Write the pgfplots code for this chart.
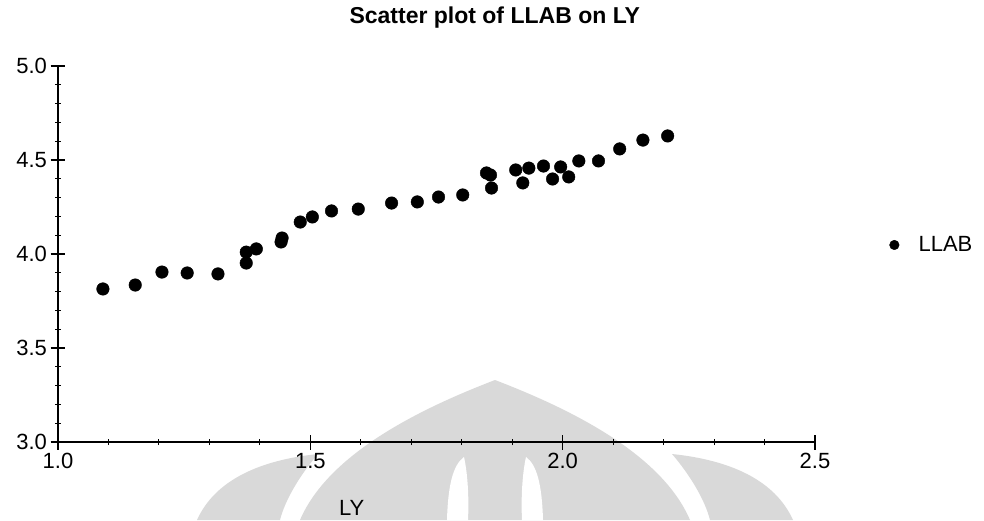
\documentclass[border=0pt]{standalone}
\usepackage{fontspec}
\setmainfont{Liberation Sans}
\usepackage{pgfplots}
\pgfplotsset{compat=1.18}
\definecolor{wmgray}{gray}{0.85}

\begin{document}
\begin{tikzpicture}[x=1pt,y=1pt]
\useasboundingbox (0,0) rectangle (984,520);
% faint logo behind the plot
\begin{scope}
  \clip (0,0) rectangle (984,520);
  \fill[wmgray] (300,0) .. controls (330,70) and (430,115) .. (495,140)
                .. controls (560,115) and (660,70) .. (690,0) -- cycle;
  \fill[white] (447,0) .. controls (448,35) and (453,55) .. (464,63)
               .. controls (468,45) and (469,20) .. (468,0) -- cycle;
  \fill[white] (543,0) .. controls (542,35) and (537,55) .. (526,63)
               .. controls (522,45) and (521,20) .. (522,0) -- cycle;
  \fill[wmgray] (197,0) .. controls (215,40) and (260,60) .. (318,66)
                .. controls (300,45) and (285,20) .. (280,0) -- cycle;
  \fill[wmgray] (793,0) .. controls (775,40) and (730,60) .. (672,66)
                .. controls (690,45) and (705,20) .. (710,0) -- cycle;
\end{scope}
\begin{axis}[
  at={(58pt,78pt)}, anchor=south west,
  scale only axis, width=757pt, height=376pt,
  xmin=1, xmax=2.5, ymin=3, ymax=5,
  axis lines=left,
  axis line style={-, line width=2.5pt},
  xtick={1,1.5,2,2.5}, ytick={3,3.5,4,4.5,5},
  minor tick num=4,
  tick align=center,
  major tick length=15pt, minor tick length=6pt,
  major tick style={black, line width=1.5pt},
  minor tick style={black, line width=1pt},
  tick label style={font=\fontsize{22}{25}\selectfont},
  /pgf/number format/fixed,
  /pgf/number format/fixed zerofill,
  /pgf/number format/precision=1,
  /pgf/number format/assume math mode=true,
  title={Scatter plot of LLAB on LY},
  title style={font=\bfseries\fontsize{23}{27}\selectfont,
    at={(axis description cs:0.577,1)}, anchor=base, yshift=36pt},
  xlabel={LY},
  xlabel style={font=\fontsize{22}{26}\selectfont,
    at={(axis description cs:0.388,0)}, anchor=base, yshift=-73pt},
  legend entries={LLAB},
  legend style={at={(axis description cs:1.094,0.524)}, anchor=west,
    draw=none, fill=none, font=\fontsize{22}{26}\selectfont},
  legend image code/.code={\fill[black] (0pt,0pt) circle (4.8pt); \path (22pt,0pt);},
]
\addplot[only marks, mark=*, mark size=6.3pt, mark options={fill=black, draw=black}]
  table {
x y
1.089 3.814
1.153 3.835
1.206 3.904
1.256 3.899
1.317 3.894
1.373 4.010
1.373 3.952
1.393 4.027
1.442 4.064
1.444 4.085
1.480 4.170
1.504 4.197
1.542 4.229
1.595 4.239
1.661 4.271
1.712 4.277
1.754 4.303
1.802 4.314
1.849 4.431
1.857 4.420
1.859 4.351
1.907 4.447
1.921 4.378
1.933 4.457
1.962 4.468
1.980 4.399
1.996 4.463
2.012 4.410
2.032 4.495
2.071 4.495
2.113 4.559
2.159 4.606
2.208 4.628
};
\end{axis}
\end{tikzpicture}
\end{document}
